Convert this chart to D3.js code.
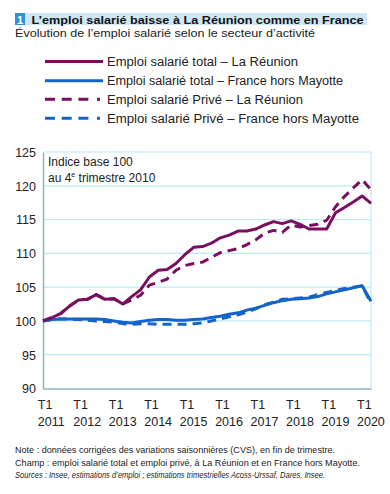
<!DOCTYPE html>
<html><head><meta charset="utf-8">
<script src="https://cdn.jsdelivr.net/npm/d3@7"></script>
<style>body{margin:0;background:#fff}svg{display:block;font-family:"Liberation Sans",Arial,sans-serif}</style>
</head><body><svg id="c" width="390" height="494"></svg>
<script>
const quarters = d3.range(38); // index 0 = T4 2010 ... 37 = T1 2020
const tickLabels = [["T1","2011"],["T1","2012"],["T1","2013"],["T1","2014"],["T1","2015"],["T1","2016"],["T1","2017"],["T1","2018"],["T1","2019"],["T1","2020"]];
const tickIndex = [1,5,9,13,17,21,25,29,33,37];
const yTicks = [90,95,100,105,110,115,120,125];
const reunionTotal = [100,100.5,101.1,102.2,103.1,103.2,103.9,103.2,103.3,102.5,103.6,104.6,106.5,107.5,107.6,108.5,109.8,110.9,111.0,111.5,112.3,112.7,113.3,113.3,113.6,114.2,114.7,114.4,114.8,114.3,113.6,113.6,113.6,116.0,116.8,117.6,118.5,117.4];
const reunionPrive = [100,100.5,101.1,102.2,103.1,103.2,103.9,103.2,103.3,102.5,103.1,103.8,105.3,105.7,106.2,107.5,108.2,108.5,108.7,109.4,110.1,110.4,110.7,111.3,112.0,113.0,113.4,113.1,114.2,113.9,114.1,114.3,114.9,116.9,118.4,119.7,120.9,119.4];
const franceTotal = [100,100.2,100.3,100.3,100.3,100.3,100.3,100.2,100.0,99.8,99.7,99.9,100.1,100.2,100.2,100.1,100.1,100.2,100.3,100.5,100.7,101.0,101.2,101.6,101.9,102.3,102.7,103.0,103.2,103.3,103.4,103.6,104.0,104.3,104.6,104.9,105.2,102.9];
const francePrive = [100,100.2,100.3,100.3,100.2,100.1,100.0,99.9,99.8,99.6,99.5,99.6,99.6,99.5,99.5,99.5,99.5,99.6,99.7,100.0,100.3,100.6,100.9,101.3,101.8,102.4,102.8,103.2,103.3,103.4,103.5,103.9,104.2,104.5,104.8,105.0,105.2,102.6];
const seriesNames = ["Emploi salarié total – La Réunion","Emploi salarié total – France hors Mayotte","Emploi salarié Privé – La Réunion","Emploi salarié Privé – France hors Mayotte"];

const purple = "#7a0f5f", blue = "#1363c8";
const series = [
  {name: seriesNames[0], values: reunionTotal, color: purple, dash: null},
  {name: seriesNames[1], values: franceTotal, color: blue, dash: null},
  {name: seriesNames[2], values: reunionPrive, color: purple, dash: "9,6"},
  {name: seriesNames[3], values: francePrive, color: blue, dash: "9,6"}
];

const svg = d3.select("#c");
const L = 43, R = 371, T = 152, B = 388.5;
const x = d3.scaleLinear().domain([0, 37]).range([L, R]);
const y = d3.scaleLinear().domain([90, 125]).range([B, T]);

// Title
svg.append("rect").attr("x", 15).attr("y", 13).attr("width", 352).attr("height", 12).attr("fill", "#cfe6f6");
svg.append("rect").attr("x", 15).attr("y", 13).attr("width", 10).attr("height", 12).attr("fill", "#2a93d5");
svg.append("text").attr("x", 20).attr("y", 23.5).attr("text-anchor", "middle").attr("fill", "#fff").attr("font-weight", "bold").attr("font-size", 11).text("1");
svg.append("text").attr("x", 31.5).attr("y", 23.5).attr("font-weight", "bold").attr("font-size", 11.5).attr("fill", "#111")
  .attr("textLength", 332).attr("lengthAdjust", "spacingAndGlyphs").text("L’emploi salarié baisse à La Réunion comme en France");
svg.append("text").attr("x", 15).attr("y", 37).attr("font-size", 11).attr("fill", "#222")
  .attr("textLength", 300).attr("lengthAdjust", "spacingAndGlyphs").text("Évolution de l’emploi salarié selon le secteur d’activité");

// Legend
const legY = [61.5, 80.7, 99.3, 118.3];
const legEnd = [298, 343, 303, 359];
const legOrder = [0, 1, 2, 3];
legOrder.forEach((si, i) => {
  const s = series[si];
  const g = svg.append("g");
  g.append("line").attr("x1", 45).attr("x2", s.dash ? 89 : 103).attr("y1", legY[i]).attr("y2", legY[i])
    .attr("stroke", s.color).attr("stroke-width", 3).attr("stroke-dasharray", s.dash ? "10,6.7" : null);
  if (s.dash) g.append("rect").attr("x", 97).attr("y", legY[i] - 1.5).attr("width", 3).attr("height", 3).attr("fill", s.color);
  g.append("text").attr("x", 107).attr("y", legY[i] + 4.5).attr("font-size", 12.5).attr("fill", "#222")
    .attr("textLength", legEnd[i] - 107).attr("lengthAdjust", "spacingAndGlyphs").text(s.name);
});

// Grid
svg.append("g").selectAll("line").data(yTicks.filter(v => v > 90)).join("line")
  .attr("x1", L).attr("x2", R).attr("y1", d => y(d)).attr("y2", d => y(d))
  .attr("stroke", "#bdeaf6").attr("stroke-width", 1.2);
svg.append("line").attr("x1", R).attr("x2", R).attr("y1", T).attr("y2", B).attr("stroke", "#bdeaf6").attr("stroke-width", 1.2);

// Y axis
const yAxis = d3.axisLeft(y).tickValues(yTicks).tickSize(0).tickPadding(7).tickFormat(d3.format("d"));
const gy = svg.append("g").attr("transform", `translate(${L},0)`).call(yAxis);
gy.select(".domain").attr("stroke", "#8fb5b8").attr("stroke-width", 1.5);
gy.selectAll("text").attr("font-size", 12.5).attr("fill", "#222").attr("font-family", "Liberation Sans, Arial, sans-serif").attr("dy", "0.35em");

// X axis
const xAxis = d3.axisBottom(x).tickValues(tickIndex).tickSize(0).tickFormat("");
const gx = svg.append("g").attr("transform", `translate(0,${B})`).call(xAxis);
gx.select(".domain").attr("stroke", "#8fb5b8").attr("stroke-width", 1.5);
tickIndex.forEach((qi, i) => {
  const t = svg.append("text").attr("font-size", 12.5).attr("fill", "#222");
  t.append("tspan").attr("x", x(qi) - 14).attr("y", 409).text(tickLabels[i][0]);
  t.append("tspan").attr("x", x(qi) - 14).attr("y", 426).text(tickLabels[i][1]);
});

// Annotation
svg.append("text").attr("x", 48).attr("y", 166).attr("font-size", 12).attr("fill", "#222").text("Indice base 100");
const a2 = svg.append("text").attr("x", 48).attr("y", 182).attr("font-size", 12).attr("fill", "#222");
a2.append("tspan").text("au 4");
a2.append("tspan").attr("font-size", 7).attr("dy", -5).text("e");
a2.append("tspan").attr("dy", 5).text(" trimestre 2010");

// Lines (draw order: dashed then solid)
const line = d3.line().x((d, i) => x(quarters[i])).y(d => y(d)).curve(d3.curveLinear);
[series[3], series[1], series[2], series[0]].forEach(s => {
  svg.append("path").datum(s.values).attr("d", line).attr("fill", "none")
    .attr("stroke", s.color).attr("stroke-width", 3).attr("stroke-linejoin", "round")
    .attr("stroke-dasharray", s.dash);
});

// Notes
const notes = [
  {t: "Note : données corrigées des variations saisonnières (CVS), en fin de trimestre.", y: 453, w: 320, it: false},
  {t: "Champ : emploi salarié total et emploi privé, à La Réunion et en France hors Mayotte.", y: 466, w: 345, it: false},
  {t: "Sources : Insee, estimations d’emploi ; estimations trimestrielles Acoss-Urssaf, Dares, Insee.", y: 478, w: 310, it: true}
];
notes.forEach(n => {
  svg.append("text").attr("x", 15).attr("y", n.y).attr("font-size", 9).attr("fill", "#222")
    .attr("font-style", n.it ? "italic" : null)
    .attr("textLength", n.w).attr("lengthAdjust", "spacingAndGlyphs").text(n.t);
});
</script></body></html>
